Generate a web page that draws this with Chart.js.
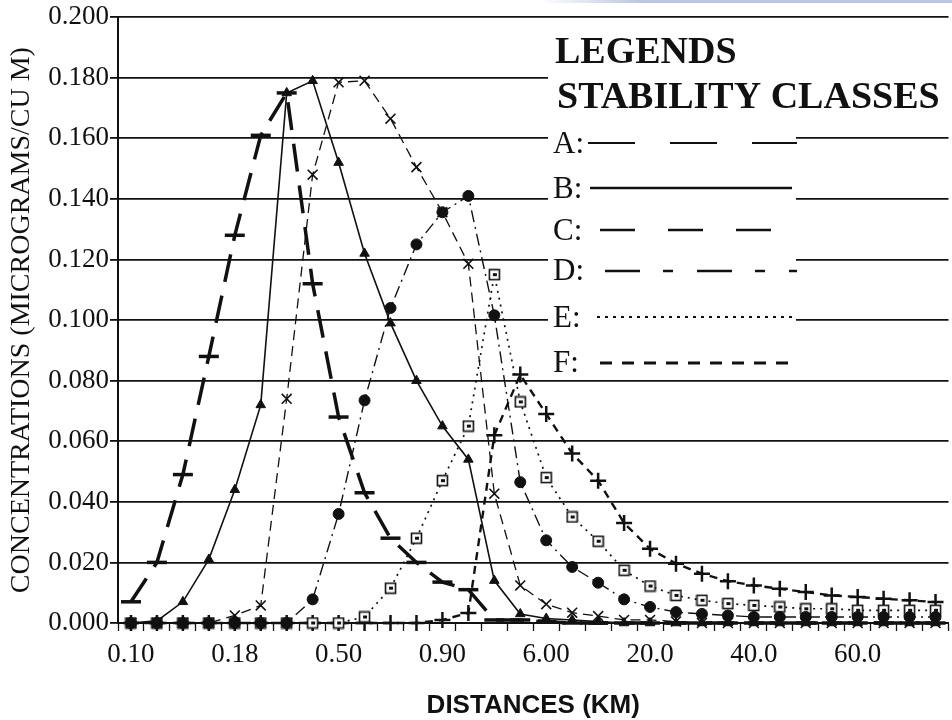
<!DOCTYPE html>
<html>
<head>
<meta charset="utf-8">
<title>Concentrations vs distance</title>
<script src="https://cdn.jsdelivr.net/npm/chart.js@4/dist/chart.umd.min.js"></script>
<style>
  html, body { margin: 0; padding: 0; background: #fff; overflow: hidden; }
  #wrap { position: relative; width: 962px; height: 720px; }
  #scanband { position: absolute; left: 540px; top: 0; width: 412px; height: 3px;
    background: linear-gradient(to right, rgba(255,255,255,0), #bcc5dd 25%, #bcc5dd); }
</style>
</head>
<body>
<div id="wrap">
  <canvas id="concChart" width="962" height="720"></canvas>
  <div id="scanband"></div>
</div>
<script>
// distance categories, only every 4th one is labelled on the axis
const distanceLabels = [
  "0.10", "", "", "", "0.18", "", "", "", "0.50", "", "", "", "0.90", "", "", "",
  "6.00", "", "", "", "20.0", "", "", "", "40.0", "", "", "", "60.0", "", "", ""
];

const stabilityClasses = ["A", "B", "C", "D", "E", "F"];

// concentrations (micrograms / cu m) per stability class
const classA = [0.007, 0.020, 0.049, 0.088, 0.128, 0.161, 0.175, 0.112, 0.068, 0.043, 0.028, 0.020,
  0.0135, 0.011, 0.001, 0.001, 0.0005, 0, 0, 0, 0, 0, 0, 0, 0, 0, 0, 0, 0, 0, 0, 0];
const classB = [0, 0.0007, 0.007, 0.021, 0.044, 0.072, 0.175, 0.179, 0.152, 0.122, 0.099, 0.080,
  0.065, 0.054, 0.014, 0.003, 0.0015, 0.001, 0.0005, 0, 0, 0, 0, 0, 0, 0, 0, 0, 0, 0, 0, 0];
const classC = [0, 0, 0, 0, 0.0025, 0.0058, 0.074, 0.148, 0.1785, 0.179, 0.1665, 0.1505,
  0.1356, 0.1186, 0.0427, 0.0124, 0.0062, 0.0034, 0.0023, 0.001, 0.001, 0.0005, 0, 0, 0, 0, 0, 0, 0, 0, 0, 0];
const classD = [0, 0, 0, 0, 0, 0, 0, 0.0078, 0.036, 0.0735, 0.104, 0.125,
  0.1356, 0.141, 0.1016, 0.0465, 0.0273, 0.0185, 0.0133, 0.0078, 0.0053, 0.0036, 0.003, 0.0025,
  0.002, 0.002, 0.002, 0.002, 0.002, 0.002, 0.002, 0.002];
const classE = [0, 0, 0, 0, 0, 0, 0, 0, 0, 0.002, 0.0115, 0.028,
  0.047, 0.065, 0.115, 0.073, 0.048, 0.035, 0.027, 0.0174, 0.0122, 0.0091, 0.0075, 0.0064,
  0.0058, 0.0053, 0.0047, 0.0047, 0.0042, 0.0042, 0.0042, 0.0042];
const classF = [0, 0, 0, 0, 0, 0, 0, 0, 0, 0, 0, 0,
  0.001, 0.0033, 0.062, 0.082, 0.069, 0.056, 0.047, 0.033, 0.0245, 0.0196, 0.0163, 0.0138,
  0.0124, 0.0113, 0.0102, 0.0091, 0.0086, 0.008, 0.0075, 0.0069];

const ink = "#111";
const serif = "'Liberation Serif', 'Times New Roman', serif";

// little square with a mark inside, like the scanned "E" markers
function boxMarker() {
  const c = document.createElement("canvas");
  c.width = 13;
  c.height = 13;
  const g = c.getContext("2d");
  g.fillStyle = "#fff";
  g.fillRect(1, 1, 11, 11);
  g.strokeStyle = ink;
  g.lineWidth = 1.6;
  g.strokeRect(1.5, 1.5, 10, 10);
  g.fillStyle = ink;
  g.fillRect(5, 5, 4, 3);
  return c;
}

// hand drawn legend box of the original figure
const stabilityLegend = {
  id: "stabilityLegend",
  beforeDatasetsDraw(chart) {
    const ctx = chart.ctx;
    ctx.save();
    ctx.fillStyle = "#fff";
    ctx.fillRect(548, 28, 420, 84);
    ctx.fillRect(548, 112, 248, 262);

    ctx.fillStyle = ink;
    ctx.textBaseline = "alphabetic";
    ctx.textAlign = "left";
    ctx.font = "bold 38px " + serif;
    ctx.fillText("LEGENDS", 555, 63);
    ctx.fillText("STABILITY CLASSES", 557, 108);

    const rows = [
      { base: 153, y: 143, x0: 588, x1: 797, dash: [47, 35], w: 2.2 },
      { base: 198, y: 188, x0: 590, x1: 792, dash: [], w: 2.4 },
      { base: 240, y: 230, x0: 600, x1: 772, dash: [35, 33], w: 2.6 },
      { base: 280, y: 271, x0: 605, x1: 797, dash: [35, 23, 10, 24], w: 2.6 },
      { base: 327, y: 317, x0: 597, x1: 793, dash: [3, 5], w: 2.2 },
      { base: 372, y: 363, x0: 600, x1: 793, dash: [12, 10], w: 3 }
    ];
    ctx.font = "31px " + serif;
    ctx.strokeStyle = ink;
    rows.forEach((r, i) => {
      ctx.fillText(stabilityClasses[i] + ":", 553, r.base);
      ctx.lineWidth = r.w;
      ctx.setLineDash(r.dash);
      ctx.beginPath();
      ctx.moveTo(r.x0, r.y);
      ctx.lineTo(r.x1, r.y);
      ctx.stroke();
    });
    ctx.restore();
  }
};

const common = {
  borderColor: ink,
  pointBorderColor: ink,
  pointBackgroundColor: ink,
  tension: 0,
  fill: false,
  clip: false
};

const chartData = {
  labels: distanceLabels,
  datasets: [
    { ...common, label: stabilityClasses[0], data: classA, borderWidth: 3.5, borderDash: [28, 14],
      pointStyle: "line", pointRadius: 10, pointBorderWidth: 3.5 },
    { ...common, label: stabilityClasses[1], data: classB, borderWidth: 1.6,
      pointStyle: "triangle", pointRadius: 5.5, pointBorderWidth: 1 },
    { ...common, label: stabilityClasses[2], data: classC, borderWidth: 1.3, borderDash: [10, 6],
      pointStyle: "crossRot", pointRadius: 7, pointBorderWidth: 1.6 },
    { ...common, label: stabilityClasses[3], data: classD, borderWidth: 1.4, borderDash: [12, 5, 2, 5],
      pointStyle: "circle", pointRadius: 5.5, pointBorderWidth: 1 },
    { ...common, label: stabilityClasses[4], data: classE, borderWidth: 1.7, borderDash: [2, 5],
      pointStyle: boxMarker(), pointRadius: 6 },
    { ...common, label: stabilityClasses[5], data: classF, borderWidth: 2.4, borderDash: [8, 6],
      pointStyle: "cross", pointRadius: 8, pointBorderWidth: 2.5 }
  ]
};

const chart = new Chart(document.getElementById("concChart").getContext("2d"), {
  type: "line",
  data: chartData,
  plugins: [stabilityLegend],
  options: {
    responsive: false,
    animation: false,
    layout: { padding: { top: 17, right: 0, bottom: 0, left: 0 } },
    plugins: {
      legend: { display: false },
      tooltip: { enabled: false }
    },
    scales: {
      x: {
        type: "category",
        offset: true,
        border: { display: true, color: ink, width: 2 },
        grid: { display: true, drawOnChartArea: false, drawTicks: true, offset: true,
          tickLength: 8, tickColor: ink, tickWidth: 1.3 },
        ticks: {
          autoSkip: false, maxRotation: 0, minRotation: 0, padding: 8, color: ink,
          font: { family: serif, size: 27 },
          callback: (value, index) => distanceLabels[index]
        },
        title: {
          display: true, text: "DISTANCES (KM)", color: ink,
          font: { family: "'Liberation Sans', Arial, sans-serif", size: 26, weight: "bold", lineHeight: 1 },
          padding: { top: 0, bottom: 1 }
        },
        afterFit: (scale) => { scale.height = 97; }
      },
      y: {
        min: 0,
        max: 0.2,
        border: { display: true, color: ink, width: 2 },
        grid: { color: ink, lineWidth: 1.8, tickLength: 8, tickColor: ink },
        ticks: {
          stepSize: 0.02, padding: 1, color: ink,
          font: { family: serif, size: 27 },
          callback: (value) => value.toFixed(3)
        },
        title: {
          display: true, text: "CONCENTRATIONS (MICROGRAMS/CU M)", color: ink,
          font: { family: serif, size: 28, lineHeight: 1.2 },
          padding: { top: 5, bottom: 0 }
        },
        afterFit: (scale) => { scale.width = 118; }
      }
    }
  }
});
</script>
</body>
</html>
